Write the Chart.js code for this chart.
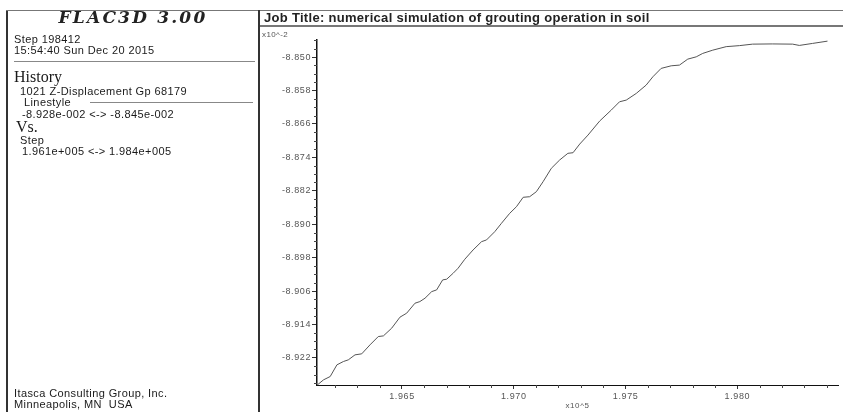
<!DOCTYPE html>
<html>
<head>
<meta charset="utf-8">
<script src="https://cdn.jsdelivr.net/npm/chart.js@4/dist/chart.umd.min.js"></script>
<style>
  html, body { margin: 0; padding: 0; background: #fff; }
  body { width: 843px; height: 412px; position: relative; overflow: hidden; font-family: "Liberation Sans", Arial, sans-serif; color: #111; }
  #c { position: absolute; left: 0; top: 0; }
  .abs { position: absolute; white-space: nowrap; }
  .sans { font-family: "Liberation Sans", Arial, sans-serif; font-size: 11px; line-height: 12px; letter-spacing: 0.4px; color: #1a1a1a; }
  .serif { font-family: "Liberation Serif", "Times New Roman", serif; font-size: 16px; line-height: 16px; color: #1a1a1a; }
  .line { position: absolute; }
</style>
</head>
<body>
<canvas id="c" width="843" height="412"></canvas>

<!-- frame lines -->
<div class="line" style="left:6px;top:10px;width:2px;height:402px;background:#333;"></div>
<div class="line" style="left:6px;top:10px;width:837px;height:1px;background:#777;"></div>
<div class="line" style="left:258px;top:10px;width:2px;height:402px;background:#333;"></div>
<div class="line" style="left:260px;top:25px;width:583px;height:2px;background:#777;"></div>
<div class="line" style="left:14px;top:61px;width:241px;height:1px;background:#888;"></div>
<div class="line" style="left:90px;top:102px;width:163px;height:1px;background:#888;"></div>

<!-- left panel text -->
<div class="abs" style="left:8px;width:250px;top:7px;text-align:center;font-family:'DejaVu Serif',serif;font-weight:bold;font-style:italic;font-size:17px;line-height:20px;letter-spacing:2.2px;color:#222;">FLAC3D 3.00</div>
<div class="abs sans" style="left:14px;top:33px;">Step 198412</div>
<div class="abs sans" style="left:14px;top:44px;">15:54:40 Sun Dec 20 2015</div>
<div class="abs serif" style="left:14px;top:69px;">History</div>
<div class="abs sans" style="left:20px;top:85px;">1021 Z-Displacement Gp 68179</div>
<div class="abs sans" style="left:24px;top:96px;">Linestyle</div>
<div class="abs sans" style="left:22px;top:108px;">-8.928e-002 &lt;-&gt; -8.845e-002</div>
<div class="abs serif" style="left:16px;top:119px;">Vs.</div>
<div class="abs sans" style="left:20px;top:134px;">Step</div>
<div class="abs sans" style="left:22px;top:145px;">1.961e+005 &lt;-&gt; 1.984e+005</div>
<div class="abs sans" style="left:14px;top:387px;">Itasca Consulting Group, Inc.</div>
<div class="abs sans" style="left:14px;top:398px;">Minneapolis, MN&nbsp; USA</div>

<!-- right panel text -->
<div class="abs" style="left:264px;top:11px;font-size:13px;line-height:14px;font-weight:bold;letter-spacing:0.3px;color:#222;">Job Title: numerical simulation of grouting operation in soil</div>
<div class="abs" style="left:262px;top:30px;font-size:8px;line-height:10px;letter-spacing:0.4px;color:#555;">x10^-2</div>

<script>
// ---- data (step in x10^5, Z-displacement in x10^-2) ----
const stepValues = [
  1.96122, 1.96149, 1.96179, 1.96209, 1.96238, 1.96260, 1.96290, 1.96320, 1.96357, 1.96394,
  1.96417, 1.96454, 1.96491, 1.96521, 1.96558, 1.96580, 1.96603, 1.96633, 1.96655, 1.96682,
  1.96700, 1.96729, 1.96751, 1.96781, 1.96818, 1.96856, 1.96878, 1.96915, 1.96945, 1.96982,
  1.97012, 1.97042, 1.97071, 1.97101, 1.97131, 1.97168, 1.97205, 1.97242, 1.97265, 1.97295,
  1.97332, 1.97384, 1.97436, 1.97473, 1.97503, 1.97548, 1.97592, 1.97622, 1.97659, 1.97704,
  1.97741, 1.97778, 1.97816, 1.97845, 1.97890, 1.97950, 1.98009, 1.98068, 1.98156, 1.98247,
  1.98277, 1.98336, 1.98403
];
const displacementValues = [
  -8.92847, -8.92727, -8.92647, -8.92368, -8.92288, -8.92248, -8.92128, -8.92104, -8.91889, -8.91690,
  -8.91674, -8.91490, -8.91226, -8.91131, -8.90892, -8.90853, -8.90772, -8.90614, -8.90573, -8.90334,
  -8.90317, -8.90174, -8.90054, -8.89839, -8.89617, -8.89418, -8.89377, -8.89179, -8.88978, -8.88739,
  -8.88581, -8.88356, -8.88342, -8.88222, -8.87983, -8.87662, -8.87464, -8.87303, -8.87289, -8.87081,
  -8.86866, -8.86531, -8.86268, -8.86069, -8.86029, -8.85868, -8.85670, -8.85471, -8.85270, -8.85208,
  -8.85191, -8.85048, -8.84993, -8.84911, -8.84833, -8.84749, -8.84725, -8.84689, -8.84684, -8.84689,
  -8.84720, -8.84672, -8.84617
];
const xTickValues = [1.965, 1.970, 1.975, 1.980];
const xTickLabels = ['1.965', '1.970', '1.975', '1.980'];
const yTickValues = [-8.850, -8.858, -8.866, -8.874, -8.882, -8.890, -8.898, -8.906, -8.914, -8.922];
const yTickLabels = ['-8.850', '-8.858', '-8.866', '-8.874', '-8.882', '-8.890', '-8.898', '-8.906', '-8.914', '-8.922'];
const xMinorTicks = [1.962,1.963,1.964,1.966,1.967,1.968,1.969,1.971,1.972,1.973,1.974,1.976,1.977,1.978,1.979,1.981,1.982,1.983,1.984];
const yMinorTicks = [-8.846,-8.848,-8.852,-8.854,-8.856,-8.860,-8.862,-8.864,-8.868,-8.870,-8.872,-8.876,-8.878,-8.880,-8.884,-8.886,-8.888,-8.892,-8.894,-8.896,-8.900,-8.902,-8.904,-8.908,-8.910,-8.912,-8.916,-8.918,-8.920,-8.924,-8.926,-8.928];
const xRange = [1.9612, 1.9845];
const yRange = [-8.9285, -8.8459];

const points = stepValues.map((x, i) => ({ x: x, y: displacementValues[i] }));

const minorTickPlugin = {
  id: 'minorTicks',
  beforeDraw(chart) {
    chart.ctx.letterSpacing = '0.6px';
  },
  afterDraw(chart) {
    const ctx = chart.ctx;
    const xs = chart.scales.x, ys = chart.scales.y;
    ctx.save();
    ctx.strokeStyle = '#444';
    ctx.lineWidth = 1;
    ctx.beginPath();
    xMinorTicks.forEach(v => {
      const p = Math.round(xs.getPixelForValue(v)) + 0.5;
      ctx.moveTo(p, xs.top); ctx.lineTo(p, xs.top + 3);
    });
    yMinorTicks.forEach(v => {
      const p = Math.round(ys.getPixelForValue(v)) + 0.5;
      ctx.moveTo(ys.right - 3, p); ctx.lineTo(ys.right, p);
    });
    ctx.stroke();
    ctx.restore();
  }
};

new Chart(document.getElementById('c'), {
  type: 'line',
  data: {
    datasets: [{
      label: '1021 Z-Displacement Gp 68179',
      data: points,
      borderColor: '#555',
      borderWidth: 1,
      pointRadius: 0,
      tension: 0,
      fill: false
    }]
  },
  options: {
    responsive: false,
    animation: false,
    devicePixelRatio: 1,
    layout: { padding: { left: 262, top: 40, right: 5, bottom: 0 } },
    plugins: { legend: { display: false }, tooltip: { enabled: false }, title: { display: false } },
    scales: {
      x: {
        type: 'linear',
        min: xRange[0], max: xRange[1],
        afterBuildTicks: s => { s.ticks = xTickValues.map(v => ({ value: v })); },
        afterFit: s => { s.height = 27; },
        ticks: {
          autoSkip: false, maxRotation: 0, padding: 2,
          color: '#555', font: { size: 9, family: 'Liberation Sans' },
          callback: (v) => xTickLabels[xTickValues.indexOf(v)]
        },
        grid: { drawOnChartArea: false, tickLength: 4, tickColor: '#333' },
        border: { color: '#111', width: 1 },
        title: { display: true, text: 'x10^5', color: '#555', font: { size: 8, family: 'Liberation Sans' }, padding: { top: 0, bottom: 1 } }
      },
      y: {
        type: 'linear',
        min: yRange[0], max: yRange[1],
        afterBuildTicks: s => { s.ticks = yTickValues.map(v => ({ value: v })); },
        afterFit: s => { s.width = 55; },
        ticks: {
          autoSkip: false, padding: 1,
          color: '#555', font: { size: 9, family: 'Liberation Sans' },
          callback: (v) => yTickLabels[yTickValues.indexOf(v)]
        },
        grid: { drawOnChartArea: false, tickLength: 5, tickColor: '#333' },
        border: { color: '#111', width: 1.5 }
      }
    }
  },
  plugins: [minorTickPlugin]
});
</script>
</body>
</html>
